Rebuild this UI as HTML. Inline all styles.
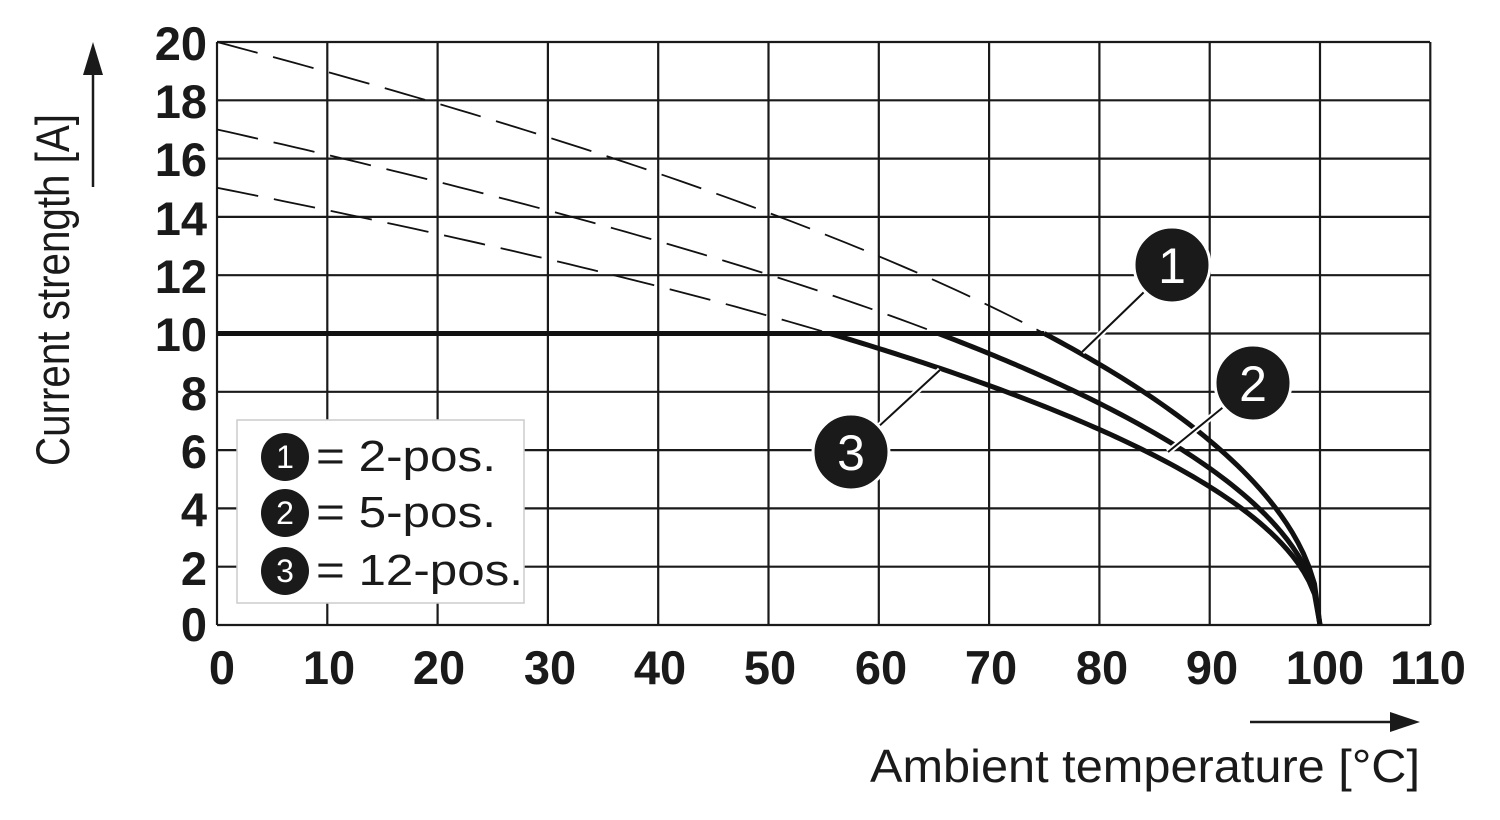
<!DOCTYPE html>
<html><head><style>
html,body{margin:0;padding:0;background:#fff;}
svg{display:block;font-family:"Liberation Sans",Arial,sans-serif;}
</style></head><body>
<svg id="s" width="1500" height="820" xmlns="http://www.w3.org/2000/svg">
<g id="grid" stroke="#1a1a1a" stroke-width="2.2" fill="none"></g>
<g id="curves" fill="none" stroke="#111"></g>
<g font-weight="bold" font-size="47" fill="#1a1a1a">
<text x="207" y="60" text-anchor="end">20</text>
<text x="207" y="118" text-anchor="end">18</text>
<text x="207" y="176" text-anchor="end">16</text>
<text x="207" y="235" text-anchor="end">14</text>
<text x="207" y="293" text-anchor="end">12</text>
<text x="207" y="351" text-anchor="end">10</text>
<text x="207" y="410" text-anchor="end">8</text>
<text x="207" y="468" text-anchor="end">6</text>
<text x="207" y="526" text-anchor="end">4</text>
<text x="207" y="585" text-anchor="end">2</text>
<text x="207" y="641" text-anchor="end">0</text>
<g text-anchor="middle">
<text x="222" y="684">0</text><text x="329" y="684">10</text><text x="439" y="684">20</text>
<text x="550" y="684">30</text><text x="660" y="684">40</text><text x="770" y="684">50</text>
<text x="881" y="684">60</text><text x="991" y="684">70</text><text x="1102" y="684">80</text>
<text x="1212" y="684">90</text><text x="1325" y="684">100</text><text x="1428" y="684">110</text>
</g></g>
<text x="870" y="782" font-size="46" textLength="550" lengthAdjust="spacingAndGlyphs" fill="#1a1a1a">Ambient temperature [°C]</text>
<line x1="1250" y1="722" x2="1395" y2="722" stroke="#1a1a1a" stroke-width="2.5"/>
<polygon points="1420,722 1390,712 1390,732" fill="#1a1a1a"/>
<text transform="translate(69,290) rotate(-90)" font-size="47" textLength="352" lengthAdjust="spacingAndGlyphs" text-anchor="middle" fill="#1a1a1a">Current strength [A]</text>
<line x1="93" y1="187" x2="93" y2="70" stroke="#1a1a1a" stroke-width="2.5"/>
<polygon points="93,42 83,75 103,75" fill="#1a1a1a"/>
<rect x="237" y="420" width="287" height="183" fill="#fff" stroke="#ccc" stroke-width="1.5"/>
<g font-size="44" fill="#1a1a1a">
<circle cx="285" cy="457" r="24" fill="#1a1a1a"/><text x="285" y="468" font-size="32" fill="#fff" text-anchor="middle">1</text>
<text x="316" y="471" textLength="180" lengthAdjust="spacingAndGlyphs">= 2-pos.</text>
<circle cx="285" cy="513" r="24" fill="#1a1a1a"/><text x="285" y="524" font-size="32" fill="#fff" text-anchor="middle">2</text>
<text x="316" y="527" textLength="180" lengthAdjust="spacingAndGlyphs">= 5-pos.</text>
<circle cx="285" cy="571" r="24" fill="#1a1a1a"/><text x="285" y="582" font-size="32" fill="#fff" text-anchor="middle">3</text>
<text x="316" y="585" textLength="207" lengthAdjust="spacingAndGlyphs">= 12-pos.</text>
</g>
<g id="labels"></g>
</svg>
<script>
var X=function(t){return 217+t*11.03;}, Y=function(v){return 625-v*29.15;};
var g=document.getElementById('grid'),h='';
for(var i=0;i<=11;i++){h+='<line x1="'+X(i*10)+'" y1="42" x2="'+X(i*10)+'" y2="625"/>';}
for(var j=0;j<=10;j++){h+='<line x1="217" y1="'+Y(j*2)+'" x2="1430" y2="'+Y(j*2)+'"/>';}
g.innerHTML=h;
var c='';
[20,17,15].forEach(function(A){
 var tc=100-100*Math.pow(10/A,2);
 var d='M';
 for(var t=0;t<=tc;t+=1){d+=X(t)+','+Y(A*Math.sqrt((100-t)/100))+' ';}
 d+=X(tc)+','+Y(10);
 c+='<path d="'+d+'" stroke-width="1.8" stroke-dasharray="42,16"/>';
 var s='M'+X(tc)+','+Y(10)+' ';
 for(var t=Math.ceil(tc);t<=100;t+=0.5){s+=X(t)+','+Y(A*Math.sqrt((100-t)/100))+' ';}
 c+='<path d="'+s+'" stroke-width="5"/>';
});
c+='<line x1="217" y1="'+Y(10)+'" x2="'+X(75)+'" y2="'+Y(10)+'" stroke-width="5"/>';
document.getElementById('curves').innerHTML=c;
var L='';
[[1172,265,1082,352,'1'],[1253,383,1168,452,'2'],[851,452,940,370,'3']].forEach(function(a){
 L+='<line x1="'+a[0]+'" y1="'+a[1]+'" x2="'+a[2]+'" y2="'+a[3]+'" stroke="#fff" stroke-width="6"/>';
 L+='<line x1="'+a[0]+'" y1="'+a[1]+'" x2="'+a[2]+'" y2="'+a[3]+'" stroke="#111" stroke-width="2"/>';
 L+='<circle cx="'+a[0]+'" cy="'+a[1]+'" r="38" fill="#1a1a1a" stroke="#fff" stroke-width="3"/>';
 L+='<text x="'+a[0]+'" y="'+(a[1]+18)+'" font-size="50" fill="#fff" text-anchor="middle">'+a[4]+'</text>';
});
document.getElementById('labels').innerHTML=L;
</script>
</body></html>
